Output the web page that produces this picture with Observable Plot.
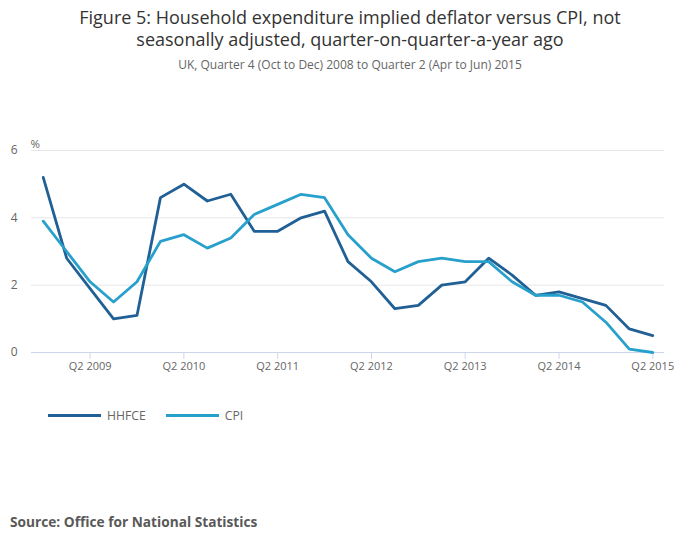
<!DOCTYPE html>
<html>
<head>
<meta charset="utf-8">
<script src="https://cdn.jsdelivr.net/npm/d3@7"></script>
<script src="https://cdn.jsdelivr.net/npm/@observablehq/plot@0.6"></script>
<style>
  html, body { margin: 0; padding: 0; background: #fff; }
  body { width: 700px; height: 549px; position: relative; overflow: hidden; font-family: "Open Sans", sans-serif; }
  #title { position: absolute; top: 6px; left: 0; width: 700px; text-align: center; font-size: 18px; line-height: 22px; color: #333; }
  #subtitle { position: absolute; top: 56px; left: 0; width: 700px; text-align: center; font-size: 12px; color: #666; }
  #chart { position: absolute; top: 80px; left: 0; }
  #legend { position: absolute; top: 407px; left: 48px; font-size: 12.2px; color: #666; display: flex; align-items: center; }
  .item { display: flex; align-items: center; margin-right: 20px; }
  .swatch { width: 53px; height: 3px; margin-right: 6px; }
  #source { position: absolute; top: 512px; left: 10px; font-size: 13.7px; font-weight: bold; color: #595959; }
</style>
</head>
<body>
<div id="title">Figure 5: Household expenditure implied deflator versus CPI, not<br>seasonally adjusted, quarter-on-quarter-a-year ago</div>
<div id="subtitle">UK, Quarter 4 (Oct to Dec) 2008 to Quarter 2 (Apr to Jun) 2015</div>
<div id="chart"></div>
<div id="legend"></div>
<div id="source">Source: Office for National Statistics</div>
<script>
const quarters = ["Q4 2008","Q1 2009","Q2 2009","Q3 2009","Q4 2009","Q1 2010","Q2 2010","Q3 2010","Q4 2010",
  "Q1 2011","Q2 2011","Q3 2011","Q4 2011","Q1 2012","Q2 2012","Q3 2012","Q4 2012",
  "Q1 2013","Q2 2013","Q3 2013","Q4 2013","Q1 2014","Q2 2014","Q3 2014","Q4 2014","Q1 2015","Q2 2015"];
const hhfce = [5.2,2.8,1.9,1.0,1.1,4.6,5.0,4.5,4.7,3.6,3.6,4.0,4.2,2.7,2.1,1.3,1.4,2.0,2.1,2.8,2.3,1.7,1.8,1.6,1.4,0.7,0.5];
const cpi = [3.9,3.0,2.1,1.5,2.1,3.3,3.5,3.1,3.4,4.1,4.4,4.7,4.6,3.5,2.8,2.4,2.7,2.8,2.7,2.7,2.1,1.7,1.7,1.5,0.9,0.1,0.0];
const xTickLabels = ["Q2 2009","Q2 2010","Q2 2011","Q2 2012","Q2 2013","Q2 2014","Q2 2015"];
const yTicks = [0, 2, 4, 6];
const seriesNames = ["HHFCE", "CPI"];
const seriesColors = ["#206095", "#27a0cc"];

const data = [];
quarters.forEach((q, i) => {
  data.push({i, q, series: "HHFCE", value: hhfce[i]});
  data.push({i, q, series: "CPI", value: cpi[i]});
});
const tickIdx = xTickLabels.map(l => quarters.indexOf(l));

const chart = Plot.plot({
  width: 700,
  height: 300,
  marginTop: 70,
  marginBottom: 28,
  marginLeft: 31,
  marginRight: 36,
  style: { fontFamily: "Open Sans, sans-serif", fontSize: "11px", color: "#666", background: "transparent" },
  x: { type: "linear", domain: [-0.5, quarters.length - 0.5] },
  y: { domain: [0, 6] },
  color: { domain: seriesNames, range: seriesColors },
  marks: [
    Plot.gridY(yTicks.filter(d => d > 0), { stroke: "#e6e6e6", strokeOpacity: 1, strokeWidth: 1 }),
    Plot.ruleY([0], { stroke: "#ccd6eb", strokeWidth: 1 }),
    Plot.axisY({ ticks: yTicks, tickSize: 0, tickPadding: 14, tickFormat: d => String(d), label: null, fill: "#666", fontSize: 12 }),
    Plot.text(["%"], { text: d => d, frameAnchor: "top-left", dx: -1, dy: -11, fill: "#666666", fontSize: 11.5, textAnchor: "start" }),
    Plot.axisX({ ticks: tickIdx, tickSize: 7, stroke: "#ccd6eb", strokeOpacity: 1, tickPadding: 3, tickFormat: d => quarters[d], label: null, fill: "#666", fontSize: 11 }),
    Plot.line(data, { x: "i", y: "value", z: "series", stroke: "series", strokeWidth: 2.8, strokeLinejoin: "round", strokeLinecap: "round" })
  ]
});
document.getElementById("chart").appendChild(chart);

const legend = document.getElementById("legend");
seriesNames.forEach((n, k) => {
  const it = document.createElement("div");
  it.className = "item";
  it.innerHTML = `<div class="swatch" style="background:${seriesColors[k]}"></div><span>${n}</span>`;
  legend.appendChild(it);
});
</script>
</body>
</html>
